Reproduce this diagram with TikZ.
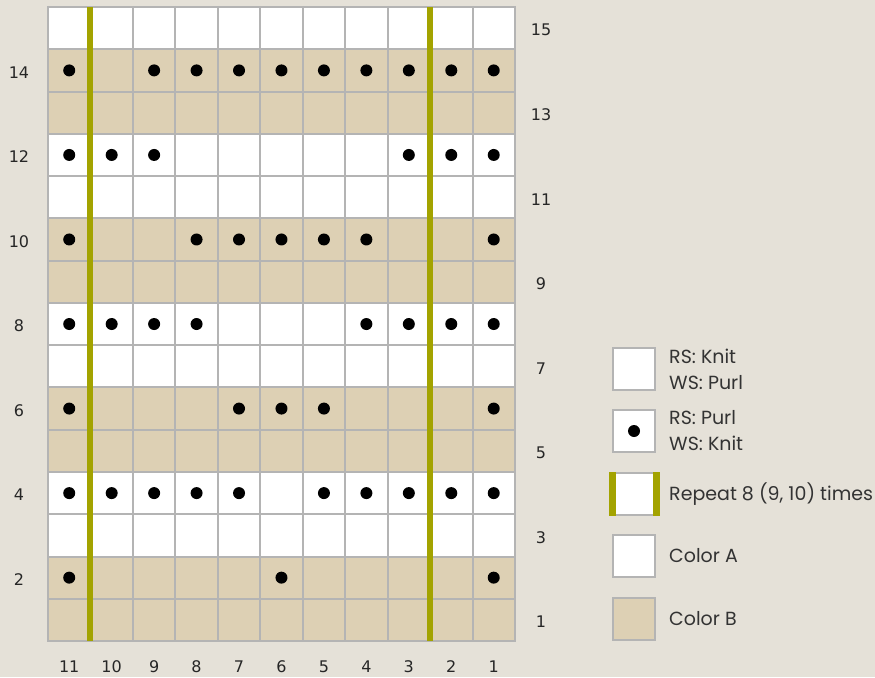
\documentclass[tikz,border=0pt]{standalone}
\usepackage{fontspec}
\setmainfont{DejaVu Sans}
\newfontfamily\legendfont{Poppins}
\usepackage{xcolor}
\usetikzlibrary{positioning}

\definecolor{bgcol}{RGB}{229,225,216}
\definecolor{colB}{RGB}{221,208,180}
\definecolor{gridcol}{RGB}{180,180,180}
\definecolor{repcol}{RGB}{163,163,0}

\begin{document}
\begin{tikzpicture}[x=1pt, y=-1pt,
    gridline/.style={draw=gridcol, line width=2pt},
    repline/.style={draw=repcol, line width=6pt},
    rownum/.style={font=\fontsize{16}{16}\selectfont, text=black!85},
    legbox/.style={draw=gridcol, line width=2pt, fill=white, minimum size=42pt, inner sep=0pt},
    legtext/.style={font=\legendfont\fontsize{19}{26}\selectfont, align=left, text=black!80, inner sep=0pt}]
    % Nền
    \fill[bgcol] (0,0) rectangle (875,677);
    \useasboundingbox (0,0) rectangle (875,677);
    \def\cw{42.45}
    \def\ch{42.27}

    % Các dải màu A / B
    \fill[white] (48,7) rectangle (515,641);
    \foreach \r in {1,5,9,13} {
        \fill[colB] (48,{7+(14-\r)*\ch}) rectangle (515,{7+(16-\r)*\ch});
    }

    % Lưới ô
    \foreach \i in {0,...,11} {
        \draw[gridline] ({48+\i*\cw},6) -- ({48+\i*\cw},642);
    }
    \foreach \j in {0,...,15} {
        \draw[gridline] (47,{7+\j*\ch}) -- (516,{7+\j*\ch});
    }

    % Mũi purl
    \foreach \r/\cols in {2/{11,6,1}, 4/{11,10,9,8,7,5,4,3,2,1}, 6/{11,7,6,5,1},
                          8/{11,10,9,8,4,3,2,1}, 10/{11,8,7,6,5,4,1}, 12/{11,10,9,3,2,1},
                          14/{11,9,8,7,6,5,4,3,2,1}} {
        \foreach \c in \cols {
            \fill ({48+(11.5-\c)*\cw},{7+(15.5-\r)*\ch}) circle (6pt);
        }
    }

    % Đường lặp lại
    \draw[repline] ({48+\cw},7) -- ({48+\cw},641);
    \draw[repline] ({48+9*\cw},7) -- ({48+9*\cw},641);

    % Số hàng, số cột
    \foreach \r in {2,4,...,14} {
        \node[rownum] (L\r) at (19,{7+(15.5-\r)*\ch+2}) {\r};
    }
    \foreach \r in {1,3,...,15} {
        \node[rownum] (R\r) at (541,{7+(15.5-\r)*\ch+2}) {\r};
    }
    \foreach \c in {1,...,11} {
        \node[rownum] (C\c) at ({48+(11.5-\c)*\cw},667) {\c};
    }

    % Chú thích
    \node[legbox] (knitbox) at (634,369) {};
    \node[legtext, right=13pt of knitbox] (knittext) {RS: Knit\\WS: Purl};
    \node[legbox] (purlbox) at (634,431) {};
    \fill (purlbox.center) circle (6pt);
    \node[legtext, right=13pt of purlbox] (purltext) {RS: Purl\\WS: Knit};
    \node[legbox] (repbox) at (634,494) {};
    \draw[repline, line width=7pt] (repbox.north west) -- (repbox.south west);
    \draw[repline, line width=7pt] (repbox.north east) -- (repbox.south east);
    \node[legtext, right=13pt of repbox] (reptext) {Repeat 8 (9, 10) times};
    \node[legbox] (abox) at (634,556) {};
    \node[legtext, right=13pt of abox] (atext) {Color A};
    \node[legbox, fill=colB] (bbox) at (634,619) {};
    \node[legtext, right=13pt of bbox] (btext) {Color B};
\end{tikzpicture}
\end{document}
